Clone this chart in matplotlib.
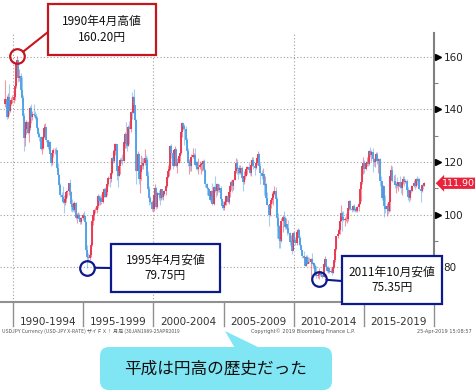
import numpy as np
import matplotlib.pyplot as plt
import matplotlib.transforms as mtransforms
from matplotlib.patches import Rectangle, FancyBboxPatch, Polygon, ConnectionPatch

plt.rcParams['font.family'] = ['DejaVu Sans', 'Noto Sans CJK JP']
JP = ['Noto Sans CJK JP', 'DejaVu Sans']

# USD/JPY monthly bars (月足), Jun 1989 - Apr 2019
start_year, start_month = 1989, 6
prev_close = 142.0  # May 1989 close = open of first bar

close = [
    144.1, 137.3, 144.9, 139.4, 142.2, 143.5, 143.6,  # 1989 Jun-Dec
    144.8, 149.1, 157.6, 158.7, 152.1, 152.6, 147.4, 144.2, 137.7, 129.0, 132.6, 135.4,
    131.2, 132.9, 140.5, 137.2, 138.4, 137.9, 137.5, 136.8, 132.9, 130.5, 129.6, 124.9,
    125.5, 129.6, 133.1, 133.5, 128.2, 125.8, 127.5, 123.1, 119.5, 123.5, 124.6, 124.7,
    124.4, 117.9, 114.9, 111.1, 107.3, 106.6, 104.8, 104.5, 106.0, 108.6, 109.1, 111.9,
    108.7, 104.1, 102.8, 101.9, 104.4, 98.5, 100.0, 100.0, 98.4, 97.0, 98.6, 99.7,
    99.6, 97.3, 86.6, 84.0, 83.3, 84.6, 88.5, 97.4, 99.7, 101.7, 101.7, 103.3,
    107.1, 105.0, 106.4, 104.8, 108.5, 109.6, 106.8, 108.6, 111.5, 114.0, 113.5, 115.8,
    121.5, 120.3, 124.0, 127.0, 116.4, 114.6, 118.4, 120.9, 120.7, 120.5, 127.6, 130.5,
    127.0, 126.1, 133.4, 132.6, 139.0, 138.6, 144.6, 141.6, 135.9, 116.5, 123.0, 113.6,
    116.2, 119.0, 118.5, 119.5, 121.4, 120.9, 114.6, 109.9, 106.4, 104.6, 102.1, 102.2,
    107.3, 110.1, 102.7, 108.2, 107.6, 106.1, 109.6, 106.6, 108.0, 108.9, 111.0, 114.4,
    116.4, 117.4, 126.1, 123.6, 118.6, 124.6, 125.0, 118.5, 119.5, 122.4, 123.5, 131.5,
    134.7, 133.6, 132.7, 128.5, 124.0, 119.5, 120.0, 118.4, 121.8, 122.5, 122.5, 118.8,
    119.9, 117.5, 118.1, 119.0, 119.2, 119.8, 120.5, 116.8, 111.5, 110.0, 109.6, 107.2,
    105.6, 109.0, 104.0, 110.5, 109.5, 108.8, 111.5, 109.5, 110.0, 105.8, 103.2, 102.6,
    103.6, 104.6, 107.2, 104.8, 108.4, 110.9, 112.5, 111.0, 113.3, 116.4, 119.7, 117.8,
    117.2, 115.8, 117.8, 113.8, 112.5, 114.5, 114.6, 117.3, 118.1, 116.9, 115.8, 119.0,
    120.7, 118.4, 117.8, 119.5, 121.7, 123.2, 118.6, 115.9, 114.8, 115.3, 111.2, 111.7,
    106.3, 103.8, 99.7, 104.0, 105.5, 106.2, 108.0, 108.8, 106.0, 98.5, 95.5, 90.6,
    89.9, 97.6, 98.9, 98.5, 95.3, 96.4, 94.7, 93.0, 89.7, 90.0, 86.1, 93.0,
    90.3, 89.0, 93.5, 94.0, 91.2, 88.4, 86.5, 84.2, 83.5, 80.4, 83.7, 81.1,
    82.0, 81.8, 83.1, 81.2, 81.5, 80.5, 77.7, 76.6, 77.0, 78.2, 77.6, 76.9,
    76.3, 81.2, 82.9, 80.0, 78.3, 79.8, 78.1, 78.4, 77.9, 79.9, 82.5, 86.7,
    91.7, 92.5, 94.2, 97.4, 100.4, 99.1, 97.9, 98.2, 98.3, 98.4, 102.4, 105.3,
    102.0, 101.8, 103.2, 102.2, 101.8, 101.3, 102.8, 104.1, 109.7, 112.3, 118.6, 119.8,
    117.5, 119.6, 120.1, 119.4, 124.1, 122.5, 123.9, 121.2, 119.9, 120.6, 123.1, 120.2,
    121.0, 112.7, 112.6, 106.3, 110.7, 103.2, 102.1, 103.4, 101.4, 104.8, 114.5, 117.0,
    112.8, 112.8, 111.4, 111.5, 110.8, 112.4, 110.3, 110.0, 112.5, 113.7, 112.5, 112.7,
    109.2, 106.7, 106.3, 109.3, 108.8, 110.8, 111.9, 111.0, 113.7, 112.9, 113.6, 109.7,
    108.9, 111.4, 110.9, 111.9,  # 2019 Jan-Apr
]
high = [
    151.4, 145.5, 146.3, 149.7, 143.7, 144.6, 145.5,
    146.5, 150.0, 158.5, 160.2, 159.0, 155.5, 154.0, 152.5, 145.5, 138.5, 134.5, 136.0,
    135.5, 134.0, 141.5, 142.0, 139.5, 142.0, 139.5, 138.5, 137.5, 133.5, 131.5, 130.0,
    127.0, 130.0, 134.5, 134.8, 133.5, 128.5, 128.0, 128.0, 123.5, 124.0, 125.5, 125.3,
    125.6, 124.5, 119.5, 115.5, 112.0, 108.5, 111.0, 107.5, 107.5, 108.8, 109.5, 112.0,
    113.6, 109.0, 106.0, 104.5, 105.0, 104.9, 100.5, 101.0, 100.5, 99.0, 99.0, 100.5,
    101.5, 100.0, 97.5, 88.5, 85.5, 86.5, 89.5, 99.5, 100.6, 102.0, 103.0, 103.5,
    107.9, 107.5, 107.0, 108.0, 109.0, 110.0, 110.5, 109.0, 111.8, 114.5, 114.5, 116.0,
    122.0, 124.8, 124.5, 127.4, 127.0, 117.5, 118.8, 121.5, 122.0, 123.0, 128.5, 131.5,
    135.2, 128.0, 134.0, 135.5, 139.5, 146.8, 145.0, 147.7, 141.5, 136.5, 124.0, 123.5,
    116.5, 122.5, 122.0, 121.5, 124.8, 122.5, 122.0, 116.5, 111.0, 107.0, 105.5, 104.0,
    107.5, 111.5, 110.5, 108.5, 109.5, 107.5, 109.8, 109.5, 108.5, 109.5, 111.5, 114.8,
    119.0, 118.0, 126.5, 126.8, 124.0, 125.0, 126.0, 125.0, 121.5, 123.0, 124.0, 131.8,
    135.2, 135.0, 134.5, 133.8, 129.0, 125.5, 121.0, 121.0, 123.0, 125.5, 123.5, 125.5,
    120.5, 120.5, 121.5, 120.5, 119.5, 120.0, 120.9, 121.0, 117.5, 112.0, 110.5, 109.8,
    107.5, 109.5, 112.0, 110.8, 114.8, 111.0, 112.0, 111.5, 111.5, 111.0, 106.0, 105.0,
    105.0, 106.0, 107.5, 108.5, 108.5, 111.0, 113.0, 112.5, 113.5, 116.5, 121.4, 121.0,
    118.0, 119.0, 119.0, 118.5, 114.0, 116.5, 117.5, 117.5, 118.5, 119.9, 118.5, 119.5,
    122.0, 122.0, 118.5, 120.0, 122.0, 124.1, 123.5, 119.5, 117.0, 117.8, 115.5, 114.5,
    112.0, 108.5, 104.0, 104.5, 106.0, 108.5, 108.5, 110.7, 110.5, 106.5, 100.5, 96.0,
    91.5, 98.5, 99.8, 101.4, 99.5, 98.5, 96.5, 97.8, 93.5, 92.3, 90.5, 93.3,
    93.8, 91.5, 93.8, 94.8, 94.5, 92.0, 88.5, 86.5, 86.0, 83.5, 84.5, 84.5,
    83.7, 84.0, 83.5, 85.5, 82.0, 81.5, 81.0, 80.2, 77.8, 79.5, 78.3, 78.3,
    77.5, 81.5, 84.2, 83.0, 80.5, 80.5, 80.0, 79.6, 79.2, 80.3, 82.8, 86.7,
    91.7, 94.4, 96.7, 99.9, 103.7, 101.5, 101.5, 99.0, 100.6, 99.0, 102.6, 105.4,
    105.4, 102.8, 103.8, 104.1, 102.7, 102.8, 103.2, 104.5, 110.1, 112.5, 118.9, 121.9,
    120.8, 120.5, 122.0, 120.8, 124.5, 125.9, 124.6, 125.3, 121.7, 121.5, 123.7, 123.7,
    121.7, 121.5, 114.6, 112.3, 111.4, 110.5, 107.5, 104.3, 104.0, 105.5, 114.8, 118.7,
    118.6, 114.9, 115.5, 112.2, 114.4, 112.5, 114.5, 111.0, 113.3, 114.5, 114.7, 113.7,
    113.4, 110.5, 107.3, 109.5, 111.4, 111.0, 113.2, 112.2, 113.9, 114.6, 114.0, 113.8,
    110.0, 111.5, 112.1, 112.4,
]
low = [
    141.0, 136.5, 136.6, 138.0, 139.2, 141.6, 142.5,
    142.5, 143.6, 148.0, 155.5, 150.5, 151.0, 145.5, 143.0, 136.0, 124.3, 126.0, 130.5,
    130.5, 127.5, 132.0, 135.0, 136.0, 137.0, 136.5, 135.5, 132.0, 129.5, 128.0, 124.5,
    122.9, 125.0, 129.0, 131.5, 127.5, 125.0, 124.5, 123.0, 118.6, 119.0, 122.0, 123.0,
    123.5, 117.0, 114.5, 110.0, 106.5, 105.0, 104.5, 100.4, 103.5, 104.8, 106.5, 107.5,
    108.5, 101.5, 101.0, 101.5, 101.0, 98.3, 96.6, 98.5, 97.8, 96.5, 96.2, 98.0,
    98.5, 96.0, 86.0, 79.75, 82.0, 82.5, 84.0, 88.0, 96.0, 98.0, 100.5, 100.5,
    102.5, 103.5, 103.5, 104.0, 104.5, 106.5, 106.5, 106.5, 107.5, 111.0, 110.5, 112.5,
    115.5, 119.5, 120.0, 122.5, 113.0, 110.6, 114.5, 115.5, 119.5, 119.0, 120.5, 125.5,
    125.5, 124.0, 126.0, 127.0, 131.5, 136.5, 138.5, 141.0, 130.5, 111.6, 116.5, 111.6,
    108.3, 113.0, 117.5, 117.5, 119.0, 117.5, 114.5, 109.5, 103.7, 104.0, 101.5, 101.5,
    101.5, 106.5, 102.0, 102.5, 105.5, 103.8, 105.5, 106.0, 105.5, 107.5, 107.5, 110.5,
    114.0, 114.5, 117.0, 121.5, 117.5, 118.5, 123.0, 118.0, 115.8, 119.5, 120.5, 123.0,
    129.5, 132.0, 126.5, 127.5, 123.0, 118.5, 115.5, 116.5, 116.5, 121.5, 119.5, 118.5,
    117.5, 117.0, 115.5, 117.5, 115.5, 116.5, 117.0, 116.5, 110.5, 107.5, 107.5, 106.8,
    105.3, 104.5, 103.5, 103.5, 108.5, 106.5, 107.5, 108.5, 108.5, 105.5, 102.5, 101.8,
    101.7, 103.5, 103.5, 104.5, 104.0, 106.5, 109.5, 108.5, 109.5, 113.0, 116.0, 115.5,
    113.5, 115.5, 115.5, 113.5, 109.0, 111.5, 113.5, 114.5, 115.5, 116.5, 115.0, 114.5,
    118.5, 117.5, 115.0, 117.5, 119.0, 121.5, 118.5, 111.6, 113.5, 114.0, 107.3, 110.5,
    104.5, 103.5, 95.7, 99.5, 102.5, 104.5, 103.8, 107.5, 103.5, 90.9, 93.5, 87.1,
    87.1, 89.5, 93.5, 97.0, 94.5, 94.5, 92.2, 92.5, 88.3, 88.0, 84.8, 86.5,
    89.5, 88.3, 88.5, 92.5, 88.5, 88.0, 86.0, 83.6, 82.9, 80.2, 80.3, 81.0,
    81.5, 81.5, 76.3, 81.0, 79.6, 79.7, 77.3, 75.9, 75.9, 75.35, 76.5, 76.6,
    76.0, 76.2, 80.8, 79.8, 78.0, 77.7, 77.9, 78.0, 77.1, 77.8, 79.5, 82.0,
    86.5, 91.0, 92.5, 92.5, 97.4, 93.8, 97.5, 95.8, 97.5, 96.6, 97.6, 101.7,
    101.8, 100.8, 101.2, 101.4, 100.8, 101.1, 101.1, 101.5, 103.9, 105.2, 111.8, 115.6,
    115.9, 116.9, 118.3, 118.5, 118.9, 122.0, 120.4, 116.2, 118.6, 118.1, 120.3, 119.3,
    115.9, 110.9, 110.7, 105.5, 105.6, 99.0, 100.7, 99.5, 100.1, 100.9, 101.2, 113.0,
    112.5, 111.6, 110.1, 108.1, 110.2, 108.8, 110.0, 108.3, 107.3, 111.7, 110.8, 111.9,
    108.3, 105.6, 104.6, 105.7, 108.1, 108.8, 110.3, 109.8, 110.4, 111.4, 112.3, 109.6,
    104.9, 108.5, 109.7, 110.8,
]

periods = ['1990-1994', '1995-1999', '2000-2004', '2005-2009', '2010-2014', '2015-2019']
bounds = [1990, 1995, 2000, 2005, 2010, 2015, 2020]
grid_years = [1990, 2000, 2010]
yticks = [80, 100, 120, 140, 160]
minor_yticks = [70, 90, 110, 130, 150]
last_value = 111.90

close = np.array(close)
high = np.array(high)
low = np.array(low)
assert len(close) == len(high) == len(low) == 359
open_ = np.r_[prev_close, close[:-1]]
t = start_year + (start_month - 1 + np.arange(len(close)) + 0.5) / 12
up = close >= open_

RED = '#e8304c'
BLUE = '#4a9ee6'

fig = plt.figure(figsize=(4.75, 3.92), dpi=100)
ax = fig.add_axes([0, 1 - 302 / 392, 434 / 475, 269 / 392])

for mask, col in [(up, RED), (~up, BLUE)]:
    ax.vlines(t[mask], low[mask], high[mask], color=col, lw=0.8, alpha=0.5, zorder=2)
    ax.vlines(t[mask], open_[mask], close[mask], color=col, lw=1.3, zorder=3)

ax.set_xlim(1989.07, 2020.0)
ax.set_ylim(66.67, 169.14)

for yv in yticks:
    ax.axhline(yv, color='#a0a0a0', lw=0.8, ls=(0, (1, 2)), zorder=1)
for xv in grid_years:
    ax.axvline(xv, color='#a0a0a0', lw=0.8, ls=(0, (1, 2)), zorder=1)

for s in ['top', 'left']:
    ax.spines[s].set_visible(False)
ax.spines['right'].set_color('#808080')
ax.spines['right'].set_linewidth(1.5)
ax.spines['bottom'].set_color('#909090')
ax.spines['bottom'].set_linewidth(1.5)

ax.set_xticks([])
ax.yaxis.tick_right()
ax.set_yticks(yticks)
ax.set_yticklabels([str(v) for v in yticks])
ax.set_yticks(minor_yticks, minor=True)
ax.tick_params(axis='y', which='major', length=0, pad=7, labelsize=7.5, labelcolor='#222222')
ax.tick_params(axis='y', which='minor', length=3, width=0.8, color='#808080', direction='out')

trans_r = mtransforms.blended_transform_factory(ax.transAxes, ax.transData)
ax.plot([1.009] * len(yticks), yticks, ls='none', marker='>', ms=4, color='black',
        transform=trans_r, clip_on=False, zorder=5)

trans_b = mtransforms.blended_transform_factory(ax.transData, ax.transAxes)
for b in bounds:
    ax.plot([b, b], [0, -0.089], color='#909090', lw=1.0, transform=trans_b, clip_on=False)
for i, p in enumerate(periods):
    ax.text((bounds[i] + bounds[i + 1]) / 2, -0.074, p, transform=trans_b, ha='center',
            va='center', fontsize=7.5, color='#333333')

ax.annotate(f'{last_value:.2f}', xy=(1, last_value), xycoords=trans_r, xytext=(5.5, 0),
            textcoords='offset points', ha='left', va='center', fontsize=6.8, color='white',
            bbox=dict(boxstyle='larrow,pad=0.12', fc='#e8243c', ec='none'),
            annotation_clip=False, zorder=6)

# annotations: circles on extremes + boxes
inch = fig.dpi_scale_trans


def px(x, y):
    return (x / 100, (392 - y) / 100)


notes = [
    (1990 + 3.5 / 12, 160.2, '#c8141e', (48, 4, 156, 55), (48, 32), '1990年4月高値\n160.20円'),
    (1995 + 3.5 / 12, 79.75, '#0d1a8c', (111, 244, 220, 292), (111, 268), '1995年4月安値\n79.75円'),
    (2011 + 9.5 / 12, 75.35, '#0d1a8c', (342, 256, 442, 304), (342, 281), '2011年10月安値\n75.35円'),
]
for xd, yd, col, (x0, y0, x1, y1), tgt, txt in notes:
    ax.plot(xd, yd, 'o', ms=10.5, mfc='none', mec=col, mew=1.6, zorder=6, clip_on=False)
    con = ConnectionPatch(xyA=(xd, yd), coordsA=ax.transData, xyB=px(*tgt), coordsB=inch,
                          arrowstyle='-', color=col, lw=1.5, shrinkA=5.5, shrinkB=0)
    fig.add_artist(con)
    fig.add_artist(Rectangle(px(x0, y1), (x1 - x0) / 100, (y1 - y0) / 100, transform=inch,
                             fc='white', ec=col, lw=1.6, zorder=4))
    cx, cy = px((x0 + x1) / 2, (y0 + y1) / 2)
    fig.text(cx, cy, txt, transform=inch, ha='center', va='center', fontsize=8.5,
             family=JP, color='#111111', linespacing=1.25, zorder=5)

# footer
fig.text(2 / 475, 1 - 331 / 392, 'USDJPY Currency (USD-JPY X-RATE) ザイＦＸ！ 月足 (30JAN1989-25APR2019',
         fontsize=3.6, color='#555555', va='center', family=JP)
fig.text(251 / 475, 1 - 331 / 392, 'Copyright© 2019 Bloomberg Finance L.P.',
         fontsize=3.6, color='#555555', va='center')
fig.text(472 / 475, 1 - 331 / 392, '25-Apr-2019 15:08:57',
         fontsize=3.6, color='#555555', va='center', ha='right')

# callout
CYAN = '#80e6f4'
fig.add_artist(Polygon([px(225, 331), px(236, 350), px(264, 350)], closed=True,
                       transform=inch, fc=CYAN, ec='none'))
fig.add_artist(FancyBboxPatch(px(100, 390), 2.32, 0.43, transform=inch,
                              boxstyle='round,pad=0,rounding_size=0.09', fc=CYAN, ec='none'))
fig.text(*px(216, 369), '平成は円高の歴史だった', transform=inch, ha='center', va='center',
         fontsize=12, family=JP, color='#111111')

fig.savefig('out.png', dpi=100)
